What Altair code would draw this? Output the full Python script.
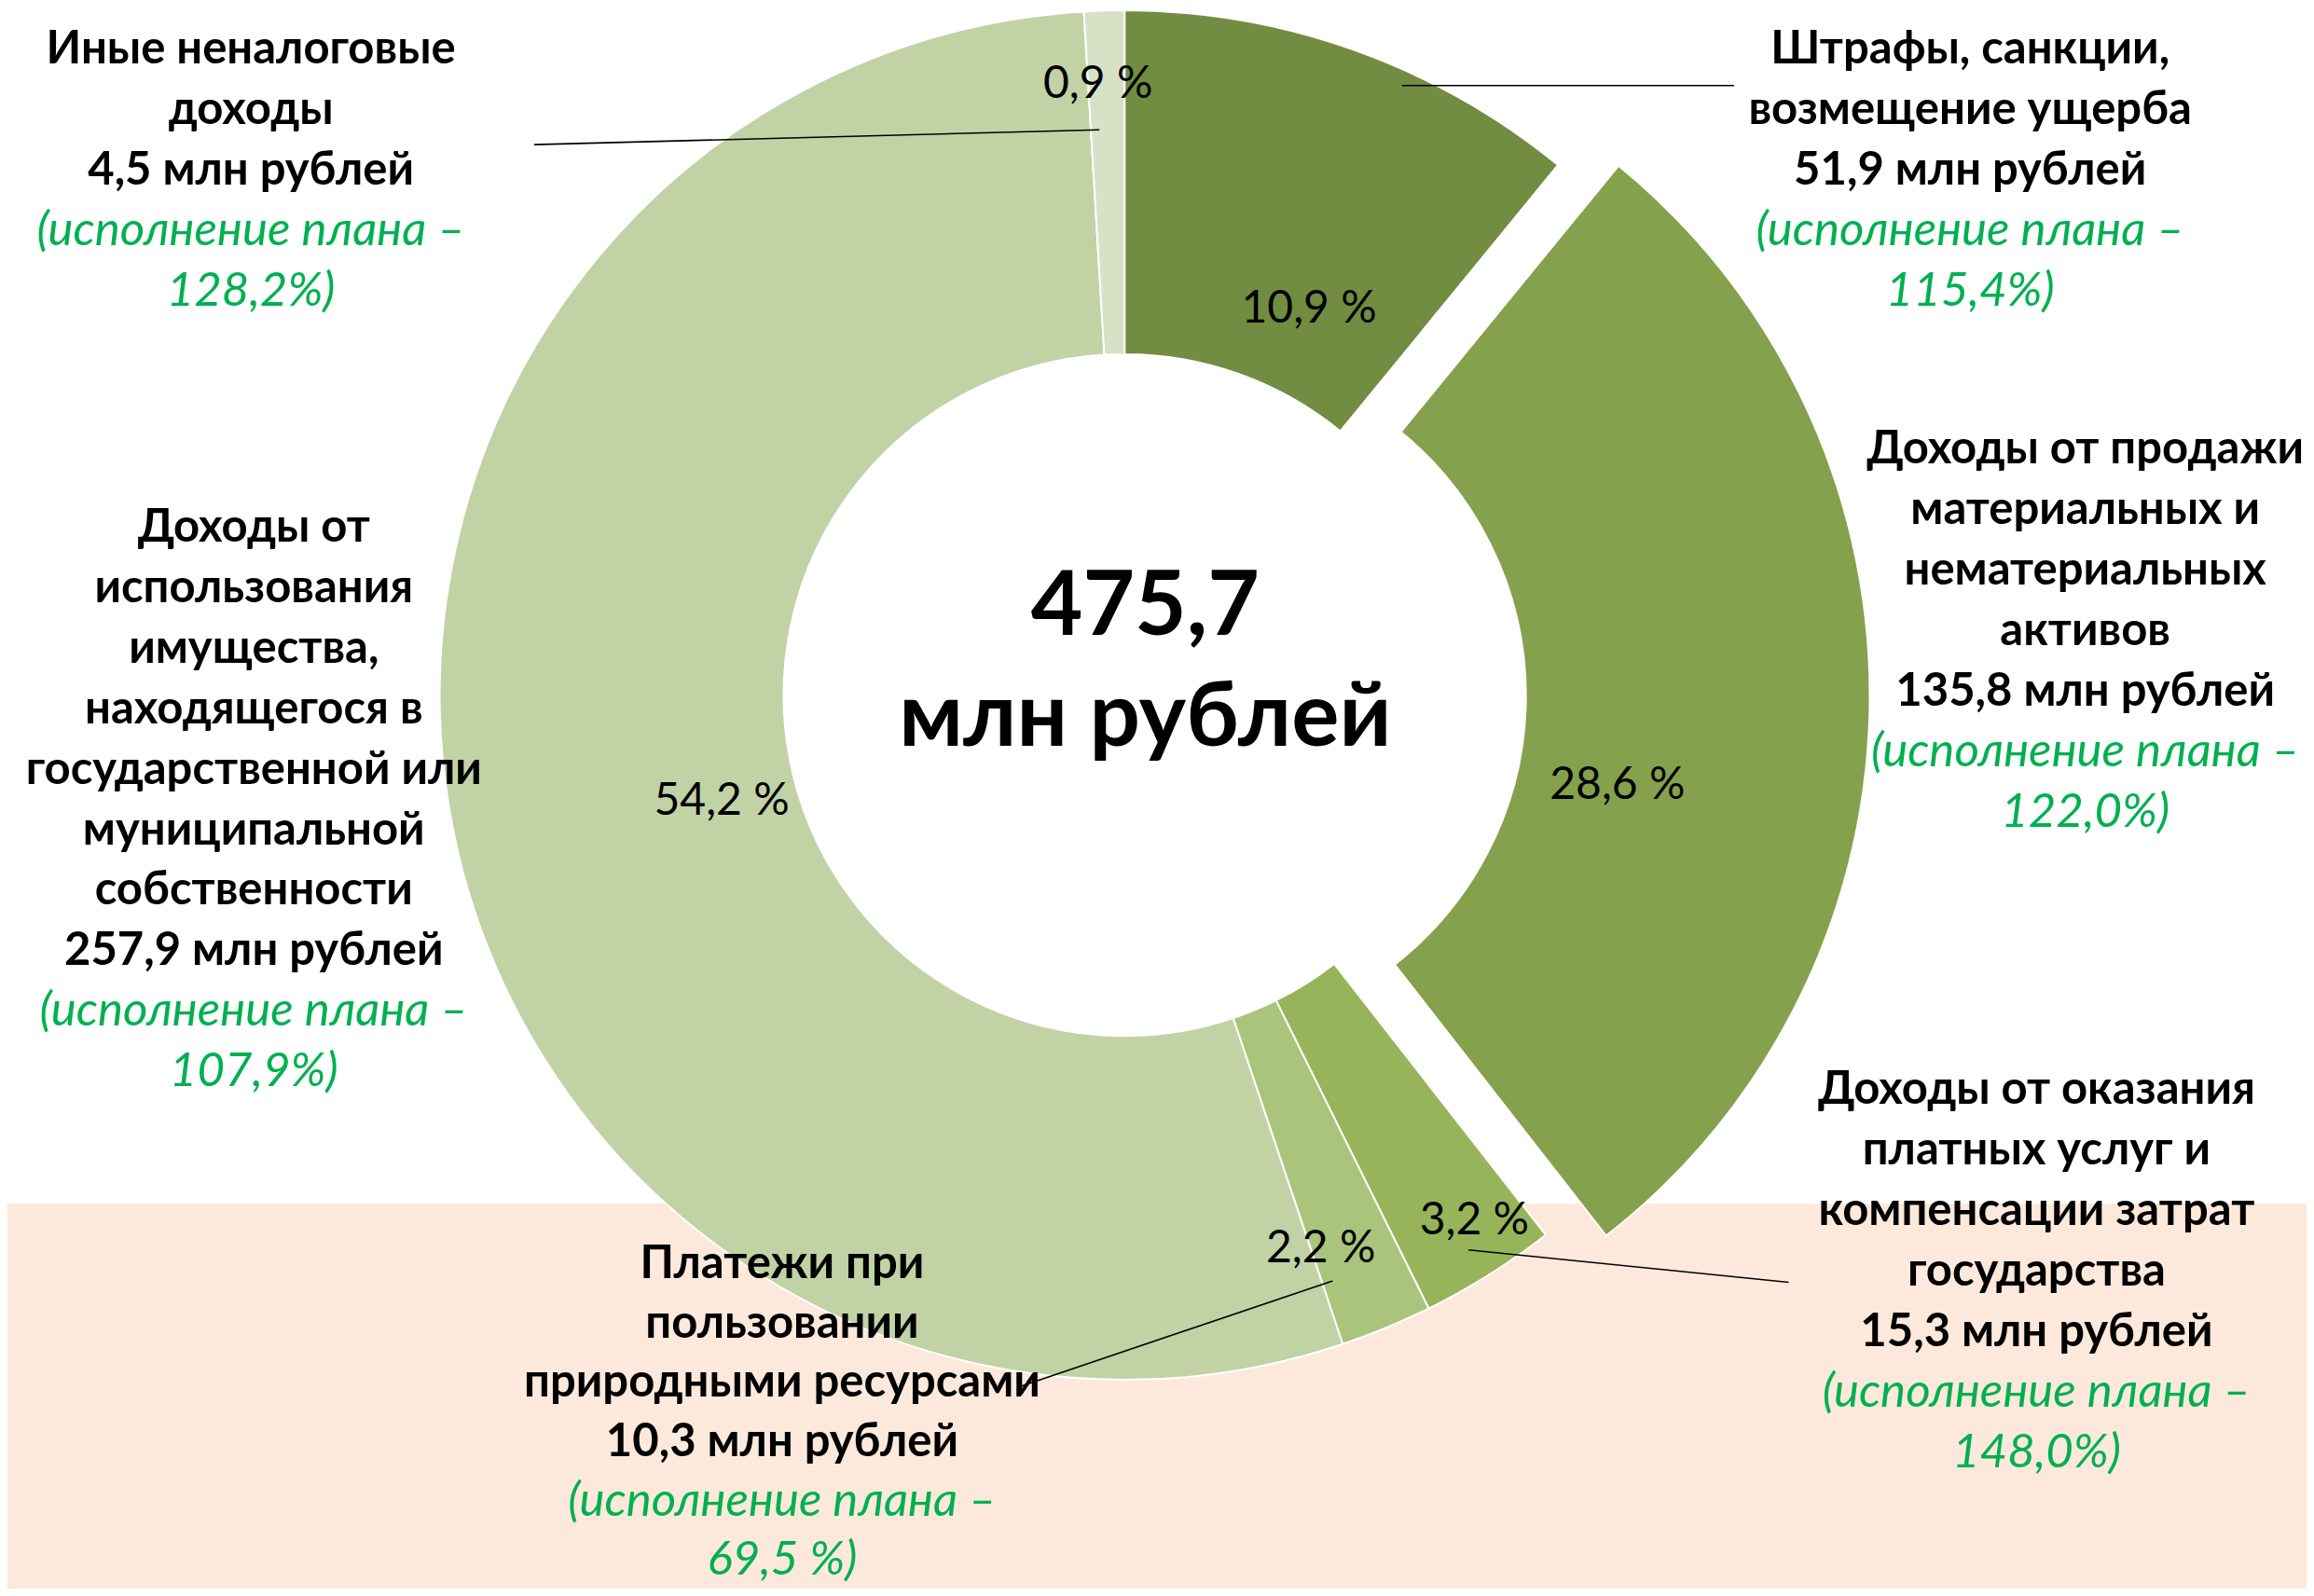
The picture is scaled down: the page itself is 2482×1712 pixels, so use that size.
import math
import altair as alt
import pandas as pd

# ---------------- data ----------------
categories = [
    "Штрафы, санкции, возмещение ущерба",
    "Доходы от продажи материальных и нематериальных активов",
    "Доходы от оказания платных услуг и компенсации затрат государства",
    "Платежи при пользовании природными ресурсами",
    "Доходы от использования имущества, находящегося в государственной или муниципальной собственности",
    "Иные неналоговые доходы",
]
values = [51.9, 135.8, 15.3, 10.3, 257.9, 4.5]          # млн рублей
shares = ["10,9 %", "28,6 %", "3,2 %", "2,2 %", "54,2 %", "0,9 %"]
plan = ["115,4%", "122,0%", "148,0%", "69,5 %", "107,9%", "128,2%"]
label_lines = [
    ["Штрафы, санкции,", "возмещение ущерба"],
    ["Доходы от продажи", "материальных и", "нематериальных", "активов"],
    ["Доходы от оказания", "платных услуг и", "компенсации затрат", "государства"],
    ["Платежи при", "пользовании", "природными ресурсами"],
    ["Доходы от", "использования", "имущества,", "находящегося в",
     "государственной или", "муниципальной", "собственности"],
    ["Иные неналоговые", "доходы"],
]
exploded = categories[1]
total_text = ["475,7", "млн рублей"]

# ---------------- style / layout ----------------
colors = ["#728C41", "#85A14D", "#97B45B", "#AAC47C", "#C1D2A5", "#D6E1C6"]
PEACH = "#FCE9DB"
GREEN = "#00B050"
FONT = "Lato"

W, H = 2466, 1696
S = 2482 / 1568          # reference-preview to full scale


def P(v):
    return v * S - 8


CX, CY = P(762), P(471)
R_OUT, R_IN = 464 * S, 231 * S
EXPL_DX, EXPL_DY = 41 * S, 0.8
LINE = 41 * S

block_anchor = [(1335, 33), (1413, 304), (1380, 738), (530, 856), (172, 357), (170, 33)]
block_line = [LINE, LINE, LINE, 40.2 * S, LINE, LINE]
share_pos = [(887, 207), (1096, 530), (999, 825), (895, 844), (489, 541), (744, 55)]
leaders = [((950, 58), (1175, 58)), ((995, 847), (1212, 869)),
           ((690, 940), (903, 868)), ((362, 98), (745, 88))]

# ---------------- tables ----------------
df = pd.DataFrame({"cat": categories, "value": values, "order": range(len(values))})
total = sum(values)

bold_rows, ital_rows = [], []
for i, cat in enumerate(categories):
    ax, ay = block_anchor[i]
    lh = block_line[i]
    lines = label_lines[i] + [f"{values[i]:.1f}".replace(".", ",") + " млн рублей"]
    for k, t in enumerate(lines):
        bold_rows.append({"x": P(ax), "y": P(ay) + 1 + k * lh, "t": t})
    for k, t in enumerate(["(исполнение плана –", plan[i] + ")"]):
        ital_rows.append({"x": P(ax), "y": P(ay) + 1 + (len(lines) + k) * lh, "t": t})
bold_df = pd.DataFrame(bold_rows)
ital_df = pd.DataFrame(ital_rows)

share_df = pd.DataFrame({"x": [P(a) for a, b in share_pos],
                         "y": [P(b) + 4 for a, b in share_pos], "t": shares})
lead_df = pd.DataFrame({"x": [P(a[0]) for a, b in leaders], "y": [P(a[1]) for a, b in leaders],
                        "x2": [P(b[0]) for a, b in leaders], "y2": [P(b[1]) for a, b in leaders]})
center_df = pd.DataFrame({"x": [P(776), P(776)], "y": [P(412), P(487)], "t": total_text})

# ---------------- marks ----------------
bg = alt.Chart(pd.DataFrame({"a": [0]})).mark_rect(color=PEACH).encode(
    x=alt.value(0), x2=alt.value(W), y=alt.value(P(815) + 1), y2=alt.value(H))

theta_scale = alt.Scale(domain=[0, total], range=[0, 2 * math.pi])
base = alt.Chart(df).transform_window(
    end="sum(value)", sort=[alt.SortField("order")], frame=[None, 0]
).transform_calculate(start="datum.end - datum.value")

arc_enc = dict(
    theta=alt.Theta("start:Q", scale=theta_scale),
    theta2=alt.Theta2("end:Q"),
    color=alt.Color("cat:N", scale=alt.Scale(domain=categories, range=colors), legend=None),
)
arcs = base.transform_filter(alt.datum.cat != exploded).mark_arc(
    innerRadius=R_IN, outerRadius=R_OUT, stroke="white", strokeWidth=2
).encode(x=alt.value(CX), y=alt.value(CY), **arc_enc)
arc_x = base.transform_filter(alt.datum.cat == exploded).mark_arc(
    innerRadius=R_IN, outerRadius=R_OUT, stroke="white", strokeWidth=2
).encode(x=alt.value(CX + EXPL_DX), y=alt.value(CY + EXPL_DY), **arc_enc)

leads = alt.Chart(lead_df).mark_rule(color="black", strokeWidth=1.6).encode(
    x=alt.X("x:Q", scale=None), y=alt.Y("y:Q", scale=None),
    x2="x2:Q", y2="y2:Q")

share_txt = alt.Chart(share_df).mark_text(
    font=FONT, fontSize=48, color="black", align="center", baseline="middle"
).encode(x=alt.X("x:Q", scale=None), y=alt.Y("y:Q", scale=None), text="t:N")

bold_txt = alt.Chart(bold_df).mark_text(
    font=FONT, fontSize=49, fontWeight="bold", color="black", align="center", baseline="middle"
).encode(x=alt.X("x:Q", scale=None), y=alt.Y("y:Q", scale=None), text="t:N")

ital_txt = alt.Chart(ital_df).mark_text(
    font=FONT, fontSize=51, fontStyle="italic", color=GREEN, align="center", baseline="middle"
).encode(x=alt.X("x:Q", scale=None), y=alt.Y("y:Q", scale=None), text="t:N")

center_txt = alt.Chart(center_df).mark_text(
    font=FONT, fontSize=96, fontWeight="bold", color="black", align="center", baseline="middle"
).encode(x=alt.X("x:Q", scale=None), y=alt.Y("y:Q", scale=None), text="t:N")

chart = alt.layer(bg, arcs, arc_x, leads, share_txt, bold_txt, ital_txt, center_txt).properties(
    width=W, height=H, padding=0, autosize=alt.AutoSizeParams(type="none"), background="white"
).configure_view(stroke=None)

chart.save("out.html", embed_options={"renderer": "svg", "actions": False})
